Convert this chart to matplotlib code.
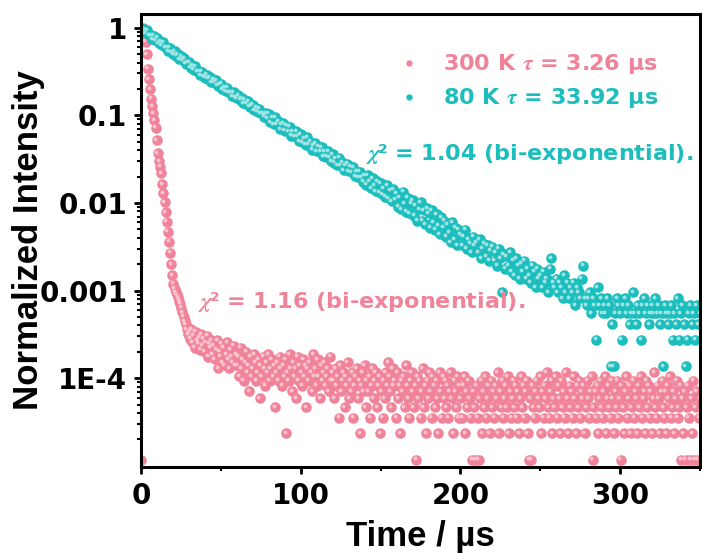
import numpy as np
import matplotlib.pyplot as plt
from matplotlib.ticker import FixedLocator, FixedFormatter, LogLocator, MultipleLocator, NullFormatter
from matplotlib.transforms import offset_copy

plt.rcParams['font.family'] = ['DejaVu Sans']
plt.rcParams['font.weight'] = 'bold'
plt.rcParams['mathtext.fontset'] = 'stix'

# decay traces stored as raw counts per channel
pink_dt = 0.7   # us per channel, 300 K
cyan_dt = 1.0   # us per channel, 80 K
pink_peak = 85000
cyan_peak = 7300

pink_counts = [
    1, 80750, 85000, 73100, 58650, 42500, 28900, 22100, 17000, 13175,
    10710, 8925, 7480, 6120, 4420, 3145, 2550, 2210, 1870, 1400,
    1090, 860, 670, 520, 400, 306, 230, 170, 128, 102,
    89, 82, 77, 71, 65, 60, 54, 48, 43, 38,
    35, 31, 27,
    28, 24, 31, 22, 26, 19, 29, 23, 21, 25, 18, 27, 20, 24, 17, 22, 26, 15, 21, 19, 23, 16,
    20, 14, 18, 23, 11, 17, 15, 21, 13, 19, 12, 16, 22, 14, 11, 18, 15, 13, 20, 12, 16,
    12, 15, 9, 19, 11, 14, 8, 13, 17, 10,
    12, 6, 15, 9, 11, 16, 13, 8, 10, 14,
    5, 12, 9, 15, 11, 7, 13, 10, 16, 8,
    11, 14, 9, 12, 4, 10, 13, 8, 15, 11,
    7, 12, 9, 14, 2, 10, 8, 16, 11, 6,
    13, 9, 11, 5, 15, 8, 12, 10, 7, 14,
    9, 12, 4, 11, 8, 13, 10, 6, 16, 9,
    11, 7, 14, 9, 5, 12, 8, 10, 13, 7,
    9, 11, 6, 15, 8, 10,
    8, 5, 11, 7, 9, 3, 12, 6, 8, 10,
    4, 9, 7, 13, 5, 8, 6, 10, 3, 7,
    9, 11, 5, 8, 2, 7, 10, 6, 12, 4,
    8, 6, 9, 3, 7, 11, 5, 8, 10, 4,
    7, 9, 2, 6, 3, 8, 5, 10, 7, 13,
    9, 6, 4, 11, 7, 8, 3, 10, 5, 7,
    2, 8, 6, 9, 4, 12, 7, 5, 3, 8,
    10, 6, 4, 7, 1, 9, 5, 8, 3, 6,
    11, 4, 7, 2, 8, 5, 10, 6, 3, 9,
    7, 4, 8, 5, 2, 10, 6, 3, 9, 5,
    8, 4, 7, 3, 6, 10, 5, 2, 8, 6,
    4, 9, 3, 7,
    5, 3, 7, 9, 2, 6, 4, 8, 5, 3,
    1, 6, 4, 1, 7, 3, 1, 5, 8, 2,
    6, 4, 9, 3, 5, 7, 2, 8, 4, 6,
    3, 7, 5, 10, 2, 6, 4, 8, 3, 5,
    7, 4, 9, 2, 6, 3, 5, 8, 4, 7,
    3, 6, 2, 5, 9, 4, 7, 3, 6, 8,
    2, 1, 5, 1, 7, 4, 3, 6, 8, 5,
    4, 9, 2, 6, 3, 7, 5, 10, 4, 3,
    6, 8, 2, 5, 4, 9, 3, 7, 5, 2,
    8, 4, 6, 3, 10, 5, 2, 7, 4, 6,
    3, 9, 5, 2, 7, 4, 8, 3, 6, 5,
    7, 2, 4, 8, 5, 3, 6, 9, 1, 4,
    6, 3, 7, 2, 5, 8, 4, 3, 6, 9,
    2, 5, 7, 4, 3, 8, 5, 2, 6, 4,
    8, 3, 5, 1, 7, 4, 2, 6, 9, 3,
    5, 7, 2, 4, 8, 3, 6, 5, 2, 7,
    4, 9, 3, 5, 6, 2, 8, 4, 7, 3,
    6, 2, 5, 10, 4, 3, 7, 5, 2, 6,
    8, 4, 3, 6, 2, 7, 5, 9, 3, 4,
    6, 2, 5, 8, 3, 4, 7, 1, 5, 2,
    6, 1, 4, 7, 3, 1, 5, 2, 8, 1,
    4, 6, 1, 3, 5,
]

cyan_counts = [
    7300, 6650, 7050, 6300, 6870, 6030, 6020, 5430, 5930, 5250,
    5620, 4830, 5120, 4570, 4990, 4380, 4370, 3940, 4310, 3810,
    3660, 3950, 3500, 3640, 3180, 3440, 3110, 3290, 2830, 2940,
    2960, 2540, 2700, 2410, 2630, 2310, 2310, 2090, 2290, 2040,
    1960, 2130, 1900, 1980, 1740, 1890, 1720, 1830, 1580, 1650,
    1670, 1440, 1530, 1380, 1510, 1330, 1330, 1210, 1330, 1180,
    1140, 1230, 1100, 1150, 1010, 1100, 990, 1060, 910, 950,
    960, 830, 890, 800, 870, 770, 770, 700, 770, 680,
    760, 613, 682, 575, 697, 576, 625, 505, 570, 593,
    488, 557, 477, 543, 428, 482, 419, 483, 415, 370,
    446, 359, 399, 337, 408, 337, 366, 296, 334, 348,
    285, 326, 279, 317, 251, 282, 246, 283, 243, 217,
    261, 210, 234, 197, 239, 198, 214, 173, 196, 204,
    167, 191, 163, 186, 147, 165, 144, 166, 143, 127,
    150, 118, 152, 128, 108, 140, 116, 100, 130, 96,
    122, 92, 108, 86, 116, 82, 102, 76, 104, 80,
    94, 66, 84, 62, 98, 72, 58, 84, 56, 72,
    78, 52, 68, 46, 62, 74, 46, 60, 42, 64,
    56, 38, 60, 44, 36, 54, 40, 32, 50, 38,
    46, 30, 42, 34, 26, 44, 28, 38, 24, 36,
    32, 24, 30, 36, 22, 28, 25, 20, 30, 24,
    26, 20, 28, 17, 22, 25, 18, 24, 16, 21,
    23, 16, 20, 14, 22, 17, 7, 19, 13, 18,
    14, 20, 12, 16, 11, 17, 14, 10, 15, 12,
    16, 10, 13, 11, 9, 14, 12, 8, 13, 10,
    11, 8, 12, 9, 10, 7, 13, 17, 9, 8,
    10, 7, 9, 8, 6, 11, 7, 9, 6, 8,
    7, 9, 5, 8, 7, 6, 10, 14, 6, 5,
    6, 7, 4, 6, 5, 2, 8, 5, 6, 4,
    5, 4, 6, 5, 1, 3, 1, 4, 6, 5,
    4, 2, 5, 6, 4, 5, 3, 4, 7, 4,
    3, 5, 4, 2, 5, 6, 4, 5, 3, 4,
    5, 4, 6, 4, 5, 3, 4, 1, 5, 4,
    3, 4, 5, 2, 4, 3, 6, 2, 4, 5,
    3, 1, 2, 4, 5, 3, 4, 2, 5, 3, 4,
]

labels = ['300 K $\\tau$ = 3.26 µs', '80 K $\\tau$ = 33.92 µs']
fit_notes = ['$\\chi$² = 1.16 (bi-exponential).', '$\\chi$² = 1.04 (bi-exponential).']
ytick_vals = [1e-4, 1e-3, 1e-2, 1e-1, 1]
ytick_text = ['1E-4', '0.001', '0.01', '0.1', '1']

pink = '#F08399'
pink_hi = '#FAC3CE'
cyan = '#1BBDBD'
cyan_hi = '#9FE3E3'

t_pink = np.arange(len(pink_counts)) * pink_dt
t_cyan = np.arange(len(cyan_counts)) * cyan_dt
y_pink = np.array(pink_counts) / pink_peak
y_cyan = np.array(cyan_counts) / cyan_peak

fig = plt.figure(figsize=(7.02, 5.54), dpi=100)
ax = fig.add_axes([0.2009, 0.157, 0.7963, 0.8177])
hi = offset_copy(ax.transData, fig=fig, x=-1.0, y=1.0, units='points')

ax.plot(t_pink, y_pink, 'o', ms=7.6, color=pink, mec='none', label=labels[0])
ax.plot(t_pink, y_pink, 'o', ms=2.8, color=pink_hi, mec='none', transform=hi)
ax.plot(t_cyan, y_cyan, 'o', ms=7.6, color=cyan, mec='none', label=labels[1])
ax.plot(t_cyan, y_cyan, 'o', ms=2.8, color=cyan_hi, mec='none', transform=hi)

ax.set_yscale('log')
ax.set_xlim(0, 350)
ax.set_ylim(9.7e-6, 1.43)

ax.xaxis.set_major_locator(MultipleLocator(100))
ax.xaxis.set_minor_locator(MultipleLocator(50))
ax.yaxis.set_major_locator(FixedLocator(ytick_vals))
ax.yaxis.set_major_formatter(FixedFormatter(ytick_text))
ax.yaxis.set_minor_locator(LogLocator(base=10, subs=np.arange(2, 10)))
ax.yaxis.set_minor_formatter(NullFormatter())

for s in ax.spines.values():
    s.set_linewidth(2.2)
ax.tick_params(which='major', direction='out', length=5, width=2, labelsize=20, pad=5)
ax.tick_params(which='minor', direction='out', length=3, width=1.5)
ax.tick_params(axis='x', which='major', pad=6)

ax.set_xlabel('Time / µs', fontsize=25, fontweight='bold', family='Liberation Sans')
ax.set_ylabel('Normalized Intensity', fontsize=25, fontweight='bold', family='Liberation Sans')
ax.xaxis.set_label_coords(0.5, -0.118)
ax.yaxis.set_label_coords(-0.172, 0.5)

leg = ax.legend(loc='upper right', bbox_to_anchor=(0.945, 0.94), frameon=False,
                fontsize=16, markerscale=0.6, handlelength=1.0, handletextpad=1.0,
                labelspacing=0.45, borderpad=0, labelcolor='markerfacecolor')

ax.text(0.40, 0.69, fit_notes[1], transform=ax.transAxes, color=cyan,
        fontsize=16, fontweight='bold', va='center', ha='left')
ax.text(0.10, 0.365, fit_notes[0], transform=ax.transAxes, color=pink,
        fontsize=16, fontweight='bold', va='center', ha='left')

fig.savefig('out.png', dpi=100)
